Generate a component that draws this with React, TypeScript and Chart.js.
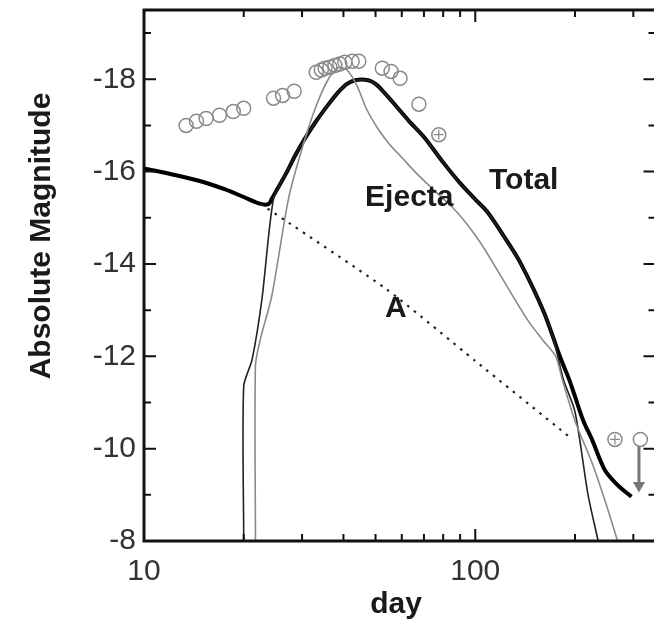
import React, { useEffect, useRef } from 'react';
import { Chart, registerables } from 'chart.js';

Chart.register(...registerables);

// ---------- data ----------
const totalDays = [10, 12.5, 15, 17.5, 20, 22.5, 23.8, 24.3, 26.8, 28.6, 30.5, 33, 36, 38.6, 41, 43.4, 47.5, 50, 53.3, 58, 63, 70, 80, 90, 100, 108.7, 122, 136.5, 161, 180, 192, 200, 212, 225, 246, 270, 296];
const totalMags = [-16.07, -15.92, -15.78, -15.62, -15.45, -15.3, -15.3, -15.41, -15.95, -16.35, -16.7, -17.08, -17.45, -17.72, -17.9, -17.98, -17.98, -17.9, -17.7, -17.4, -17.1, -16.75, -16.2, -15.75, -15.4, -15.13, -14.6, -14.04, -12.96, -12.0, -11.5, -11.13, -10.6, -10.2, -9.54, -9.2, -8.96];

const modelDays = [20, 20, 21.2, 22.7, 24.6, 26.8, 28.6, 30.5, 33, 36, 38.6, 41, 43.4, 47.5, 50, 53.3, 58, 63, 70, 80, 90, 100, 108.7, 122, 136.5, 161, 172, 184.5, 200, 219, 235];
const modelMags = [-8, -11.35, -11.93, -13.24, -15.41, -15.95, -16.35, -16.7, -17.08, -17.45, -17.72, -17.9, -17.98, -17.98, -17.9, -17.7, -17.4, -17.1, -16.75, -16.2, -15.75, -15.4, -15.13, -14.6, -14.04, -12.96, -12.4, -11.5, -10.8, -9.0, -8];

const ejectaDays = [21.7, 21.7, 22.5, 24.3, 27.3, 30, 33, 36, 38.5, 41, 44, 47, 50.6, 55, 61, 66.7, 75, 86, 97, 108, 126, 145, 160, 175, 183, 200, 225, 247, 269];
const ejectaMags = [-8, -11.8, -12.4, -13.3, -15.41, -16.5, -17.4, -18.0, -18.25, -18.2, -17.85, -17.35, -16.95, -16.6, -16.25, -15.95, -15.6, -15.2, -14.75, -14.26, -13.46, -12.75, -12.35, -12.0, -11.5, -10.6, -9.7, -8.85, -8];

const compADays = [22.5, 54, 100, 192];
const compAMags = [-15.3, -13.45, -11.9, -10.26];

const obsDays = [13.4, 14.4, 15.4, 16.9, 18.6, 20.0, 24.6, 26.2, 28.4, 33.1, 34.3, 35.2, 36.4, 37.7, 39.0, 40.4, 42.5, 44.5, 52.4, 55.7, 59.3, 67.6, 77.6, 264, 315];
const obsMags = [-17.0, -17.09, -17.15, -17.22, -17.30, -17.37, -17.59, -17.65, -17.74, -18.15, -18.2, -18.24, -18.26, -18.30, -18.33, -18.37, -18.39, -18.39, -18.24, -18.17, -18.02, -17.46, -16.8, -10.2, -10.2];

const crossDays = [77.6, 264];
const crossMags = [-16.8, -10.2];

const limitDays = [312, 312];
const limitMags = [-10.05, -9.2];

const xMajorTicks = [10, 100];
const xMinorTicks = [20, 30, 40, 50, 60, 70, 80, 90, 200, 300];
const yMajorTicks = [-18, -16, -14, -12, -10, -8];
const yMinorTicks = [-19, -17, -15, -13, -11, -9];

const curveLabels = [
  { text: 'Ejecta', day: 46.5, mag: -15.26 },
  { text: 'Total', day: 110, mag: -15.63 },
  { text: 'A', day: 53.4, mag: -12.85 },
];

const FONT = '"Liberation Sans", Arial, Helvetica, sans-serif';

const pts = (xs: number[], ys: number[]) => xs.map((x, i) => ({ x, y: ys[i] }));

const decorPlugin = {
  id: 'decor',
  afterDatasetsDraw(chart: any) {
    const { ctx, chartArea: a, scales } = chart;
    const x = scales.x;
    const y = scales.y;
    ctx.save();
    ctx.strokeStyle = '#111';
    ctx.lineWidth = 2;
    const vtick = (v: number, len: number) => {
      const px = x.getPixelForValue(v);
      ctx.beginPath();
      ctx.moveTo(px, a.bottom);
      ctx.lineTo(px, a.bottom - len);
      ctx.moveTo(px, a.top);
      ctx.lineTo(px, a.top + len);
      ctx.stroke();
    };
    const htick = (v: number, len: number) => {
      const py = y.getPixelForValue(v);
      ctx.beginPath();
      ctx.moveTo(a.left, py);
      ctx.lineTo(a.left + len, py);
      ctx.moveTo(a.right, py);
      ctx.lineTo(a.right - len, py);
      ctx.stroke();
    };
    xMajorTicks.forEach((v) => vtick(v, 12));
    xMinorTicks.forEach((v) => vtick(v, 7));
    yMajorTicks.forEach((v) => htick(v, 12));
    yMinorTicks.forEach((v) => htick(v, 7));

    ctx.lineWidth = 3;
    ctx.strokeRect(a.left, a.top, a.right - a.left, a.bottom - a.top);

    ctx.fillStyle = '#1a1a1a';
    ctx.font = `bold 30px ${FONT}`;
    ctx.textAlign = 'left';
    ctx.textBaseline = 'alphabetic';
    curveLabels.forEach((l) => {
      ctx.fillText(l.text, x.getPixelForValue(l.day), y.getPixelForValue(l.mag));
    });

    ctx.textAlign = 'center';
    ctx.fillText('day', 396, 613);

    ctx.translate(50, 236);
    ctx.rotate(-Math.PI / 2);
    ctx.fillText('Absolute Magnitude', 0, 0);
    ctx.restore();
  },
};

export default function App() {
  const ref = useRef<HTMLCanvasElement>(null);

  useEffect(() => {
    if (!ref.current) return;
    const chart = new Chart(ref.current, {
      type: 'scatter',
      data: {
        datasets: [
          {
            data: pts(compADays, compAMags),
            showLine: true,
            borderColor: '#222',
            borderWidth: 2.2,
            borderDash: [2.5, 6],
            pointRadius: 0,
            tension: 0.2,
          },
          {
            data: pts(ejectaDays, ejectaMags),
            showLine: true,
            borderColor: '#8a8a8a',
            borderWidth: 1.6,
            pointRadius: 0,
            tension: 0.25,
          },
          {
            data: pts(modelDays, modelMags),
            showLine: true,
            borderColor: '#222',
            borderWidth: 1.6,
            pointRadius: 0,
            tension: 0.25,
          },
          {
            data: pts(totalDays, totalMags),
            showLine: true,
            borderColor: '#000',
            borderWidth: 4,
            pointRadius: 0,
            tension: 0.3,
          },
          {
            data: pts(obsDays, obsMags),
            showLine: false,
            pointStyle: 'circle',
            pointRadius: 7,
            pointBorderColor: '#8a8a8a',
            pointBackgroundColor: 'rgba(255,255,255,0)',
            pointBorderWidth: 1.5,
          },
          {
            data: pts(crossDays, crossMags),
            showLine: false,
            pointStyle: 'cross',
            pointRadius: 5,
            pointBorderColor: '#8a8a8a',
            pointBorderWidth: 1.3,
          },
          {
            data: pts(limitDays, limitMags),
            showLine: true,
            borderColor: '#777',
            borderWidth: 3,
            pointStyle: 'triangle',
            pointRadius: [0, 4],
            pointRotation: 180,
            pointBackgroundColor: '#777',
            pointBorderColor: '#777',
          },
        ],
      },
      options: {
        animation: false,
        responsive: false,
        layout: { padding: { top: 10, right: 4, left: 0, bottom: 0 } },
        plugins: { legend: { display: false }, tooltip: { enabled: false } },
        scales: {
          x: {
            type: 'logarithmic',
            min: 10,
            max: 350,
            position: 'bottom',
            grid: { display: false, drawTicks: false },
            border: { display: false },
            afterBuildTicks: (s: any) => {
              s.ticks = xMajorTicks.map((v) => ({ value: v }));
            },
            afterFit: (s: any) => {
              s.height = 83;
              s.paddingLeft = 0;
              s.paddingRight = 0;
            },
            ticks: {
              callback: (v: any) => String(v),
              font: { family: FONT, size: 30 },
              color: '#333',
              padding: 13,
              maxRotation: 0,
              autoSkip: false,
            },
          },
          y: {
            type: 'linear',
            min: -19.5,
            max: -8,
            reverse: true,
            grid: { display: false, drawTicks: false },
            border: { display: false },
            afterBuildTicks: (s: any) => {
              s.ticks = yMajorTicks.map((v) => ({ value: v }));
            },
            afterFit: (s: any) => {
              s.width = 144;
              s.paddingTop = 0;
              s.paddingBottom = 0;
            },
            ticks: {
              callback: (v: any) => String(v),
              font: { family: FONT, size: 30 },
              color: '#333',
              padding: 8,
            },
          },
        },
      },
      plugins: [decorPlugin],
    } as any);
    return () => chart.destroy();
  }, []);

  return (
    <div style={{ position: 'absolute', left: 0, top: 0, width: 654, height: 624, overflow: 'hidden', background: '#fff' }}>
      <canvas ref={ref} width={664} height={624} style={{ width: 664, height: 624, display: 'block' }} />
    </div>
  );
}
